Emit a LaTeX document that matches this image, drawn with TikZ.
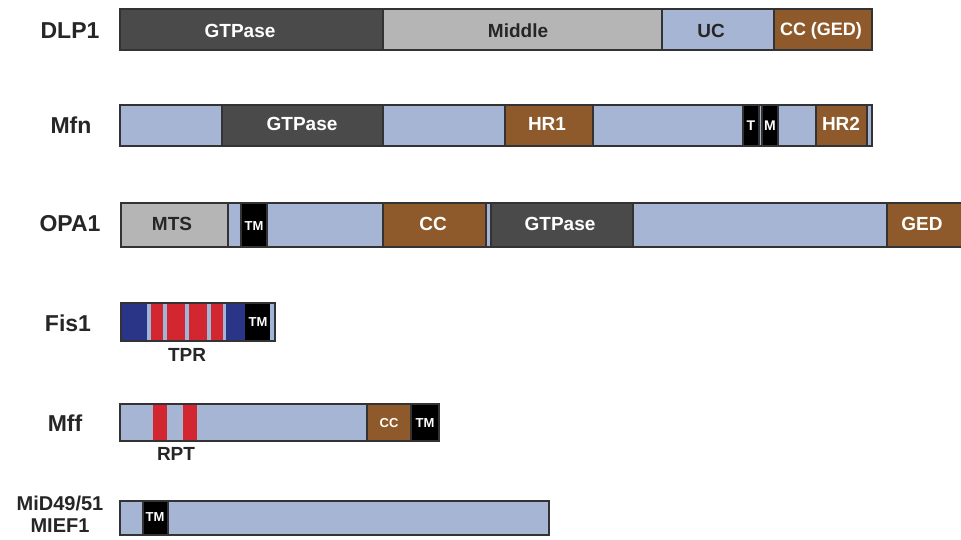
\documentclass[tikz,border=0pt]{standalone}
\usepackage{fontspec}
\setmainfont{Liberation Sans}
\definecolor{gtp}{HTML}{4A4A4A}
\definecolor{midg}{HTML}{B5B5B5}
\definecolor{lb}{HTML}{A6B5D3}
\definecolor{brn}{HTML}{8F5A2B}
\definecolor{dblue}{HTML}{2B3587}
\definecolor{rd}{HTML}{D22630}
\definecolor{stripe}{HTML}{9DB7DA}
\definecolor{edgec}{HTML}{333333}
\definecolor{labc}{HTML}{262626}
\newcommand\segm[5]{\filldraw[segline,fill=#5] (#1,#3) rectangle (#2,#4);}
\newcommand\plainseg[5]{\fill[#5] (#1,#3) rectangle (#2,#4);}
\tikzset{
  segline/.style={draw=edgec, line width=1.3pt},
  lab/.style={inner sep=0pt, font=\fontsize{23}{26}\selectfont\bfseries, text=labc, align=center},
  wt/.style={inner sep=0pt, font=\fontsize{19}{20}\selectfont\bfseries, text=white},
  bt/.style={inner sep=0pt, font=\fontsize{19}{20}\selectfont\bfseries, text=labc},
  st/.style={inner sep=0pt, font=\fontsize{13}{14}\selectfont\bfseries, text=white},
  ut/.style={inner sep=0pt, font=\fontsize{19}{21}\selectfont\bfseries, text=labc}
}
\begin{document}
\begin{tikzpicture}[x=1pt,y=-1pt]
\useasboundingbox[fill=white] (0,0) rectangle (961,539);
% DLP1
\segm{120}{383}{9}{50}{gtp}
\segm{383}{662}{9}{50}{midg}
\segm{662}{774}{9}{50}{lb}
\segm{774}{872}{9}{50}{brn}
\node[lab] (ldlp) at (70,31) {DLP1};
\node[wt] (d1) at (240,31) {GTPase};
\node[bt] (d2) at (518,31) {Middle};
\node[bt] (d3) at (711,31) {UC};
\node[wt,font=\fontsize{18}{20}\selectfont\bfseries] (d4) at (821,31) {CC (GED)};
% Mfn
\segm{120}{222}{105}{146}{lb}
\segm{222}{383}{105}{146}{gtp}
\segm{383}{505}{105}{146}{lb}
\segm{505}{593}{105}{146}{brn}
\segm{593}{743}{105}{146}{lb}
\segm{743}{759}{105}{146}{black}
\segm{759}{762}{105}{146}{lb}
\segm{762}{778}{105}{146}{black}
\segm{778}{816}{105}{146}{lb}
\segm{816}{867}{105}{146}{brn}
\segm{867}{872}{105}{146}{lb}
\node[lab] (lmfn) at (71,125) {Mfn};
\node[wt] (m1) at (302,124) {GTPase};
\node[wt] (m2) at (547,124) {HR1};
\node[wt,font=\fontsize{14}{15}\selectfont\bfseries] (m3) at (751,126) {T};
\node[wt,font=\fontsize{14}{15}\selectfont\bfseries] (m4) at (770,126) {M};
\node[wt] (m5) at (841,124) {HR2};
% OPA1
\segm{121}{228}{203}{247}{midg}
\segm{228}{241}{203}{247}{lb}
\segm{241}{267}{203}{247}{black}
\segm{267}{383}{203}{247}{lb}
\segm{383}{486}{203}{247}{brn}
\segm{486}{491}{203}{247}{lb}
\segm{491}{633}{203}{247}{gtp}
\segm{633}{887}{203}{247}{lb}
\segm{887}{975}{203}{247}{brn}
\node[lab] (lopa) at (70,224) {OPA1};
\node[bt] (o1) at (172,224) {MTS};
\node[st] (o2) at (254,226) {TM};
\node[wt] (o3) at (433,224) {CC};
\node[wt] (o4) at (560,224) {GTPase};
\node[wt] (o5) at (922,224) {GED};
% Fis1
\plainseg{121}{147}{303}{341}{dblue}
\plainseg{147}{151}{303}{341}{stripe}
\plainseg{151}{163}{303}{341}{rd}
\plainseg{163}{167}{303}{341}{stripe}
\plainseg{167}{185}{303}{341}{rd}
\plainseg{185}{189}{303}{341}{stripe}
\plainseg{189}{207}{303}{341}{rd}
\plainseg{207}{211}{303}{341}{stripe}
\plainseg{211}{223}{303}{341}{rd}
\plainseg{223}{226}{303}{341}{stripe}
\plainseg{226}{245}{303}{341}{dblue}
\plainseg{245}{270}{303}{341}{black}
\plainseg{270}{274}{303}{341}{stripe}
\draw[segline] (121,303) rectangle (275,341);
\node[lab] (lfis) at (68,323) {Fis1};
\node[st] (f1) at (258,322) {TM};
\node[ut] (ftpr) at (187,355) {TPR};
% Mff
\segm{120}{439}{404}{441}{lb}
\plainseg{153}{167}{404.7}{440.3}{rd}
\plainseg{183}{197}{404.7}{440.3}{rd}
\segm{367}{411}{404}{441}{brn}
\segm{411}{439}{404}{441}{black}
\node[lab] (lmff) at (65,423) {Mff};
\node[st] (ff1) at (389,423) {CC};
\node[st] (ff2) at (425,423) {TM};
\node[ut] (frpt) at (176,454) {RPT};
% MiD49/51
\segm{120}{549}{501}{535}{lb}
\segm{143}{168}{501}{535}{black}
\node[st] (mi1) at (155,517) {TM};
\node[lab,font=\fontsize{20}{22}\selectfont\bfseries] (lmid) at (60,514) {MiD49/51\\MIEF1};
\end{tikzpicture}
\end{document}
